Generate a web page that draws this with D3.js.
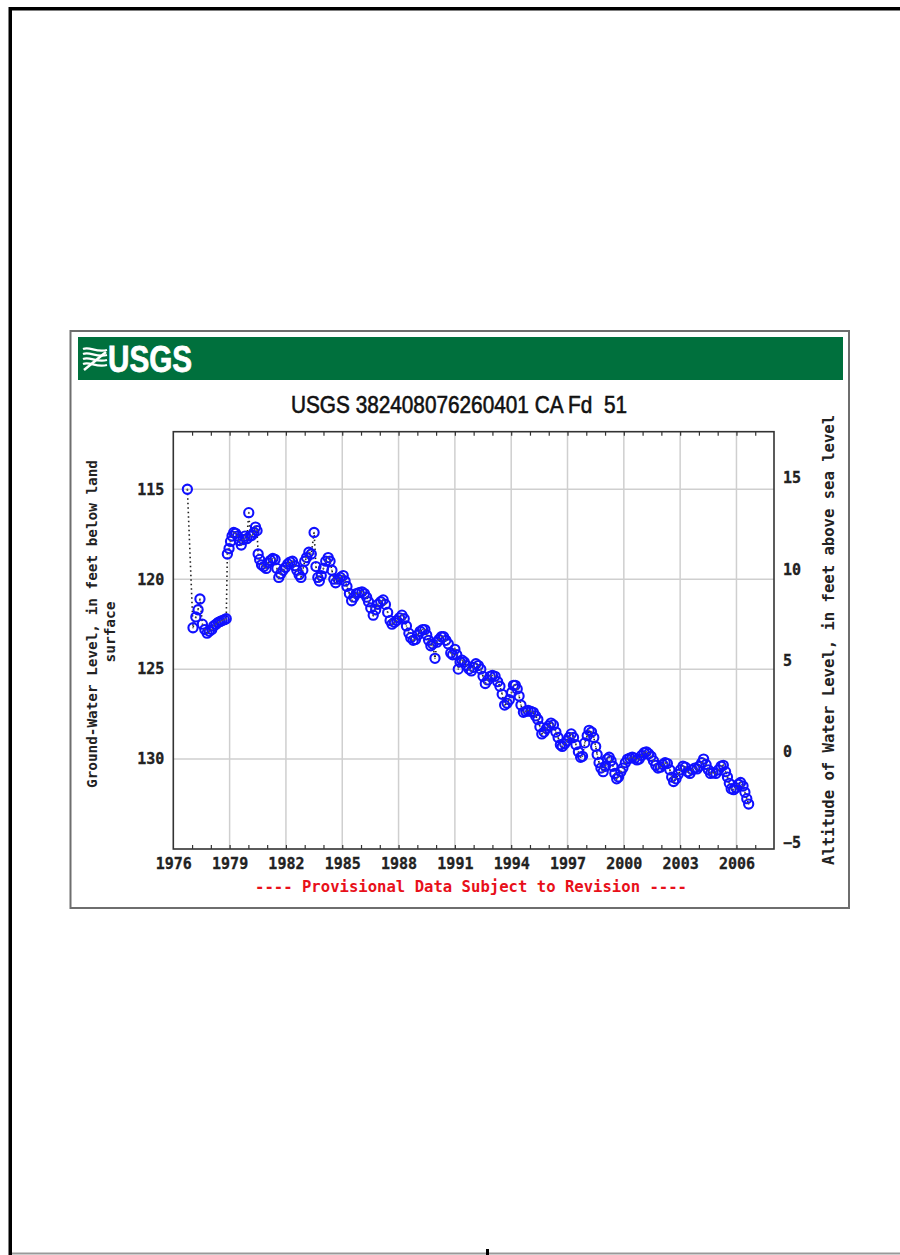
<!DOCTYPE html>
<html>
<head>
<meta charset="utf-8">
<script src="https://cdn.jsdelivr.net/npm/d3@7"></script>
<style>
html,body{margin:0;padding:0;background:#fff;}
svg{display:block;}
text{white-space:pre;}
</style>
</head>
<body>
<svg id="chart" width="900" height="1255"></svg>
<script>
// ---- data ----
const title = "USGS 382408076260401 CA Fd  51";
const leftTitle1 = "Ground-Water Level, in feet below land";
const leftTitle2 = "surface";
const rightTitle = "Altitude of Water Level, in feet above sea level";
const footer = "---- Provisional Data Subject to Revision ----";
const xTickYears = [1976, 1979, 1982, 1985, 1988, 1991, 1994, 1997, 2000, 2003, 2006];
const leftTicks = [115, 120, 125, 130];
const rightTicks = [15, 10, 5, 0, -5];
const years = [
1976.75,1977.05,1977.2,1977.32,1977.42,1977.55,1977.68,1977.8,1977.92,1978.05,1978.15,1978.28,1978.4,1978.5,1978.6,1978.72,1978.82,
1978.88,1978.97,1979.05,1979.13,1979.22,1979.32,1979.42,1979.52,1979.62,1979.72,1979.82,1979.92,1980.02,1980.1,1980.2,1980.3,1980.38,1980.46,
1980.52,1980.6,1980.7,1980.82,1980.95,1981.05,1981.18,1981.3,1981.42,1981.52,1981.62,1981.72,1981.85,1981.97,1982.1,1982.22,1982.35,1982.47,
1982.58,1982.7,1982.8,1982.9,1983.0,1983.1,1983.22,1983.35,1983.5,1983.6,1983.7,1983.78,1983.88,1984.0,1984.12,1984.25,1984.35,1984.45,
1984.55,1984.65,1984.78,1984.9,1985.05,1985.15,1985.25,1985.38,1985.5,1985.62,1985.75,1985.9,1986.05,1986.18,1986.3,1986.4,1986.52,1986.65,
1986.78,1986.9,1987.05,1987.18,1987.3,1987.42,1987.55,1987.65,1987.78,1987.9,1988.05,1988.18,1988.3,1988.42,1988.55,1988.65,1988.78,1988.9,
1989.02,1989.15,1989.28,1989.4,1989.5,1989.6,1989.72,1989.82,1989.94,1990.05,1990.15,1990.28,1990.4,1990.52,1990.65,1990.78,1990.88,1991.0,
1991.1,1991.18,1991.28,1991.38,1991.5,1991.62,1991.75,1991.88,1992.0,1992.12,1992.25,1992.38,1992.5,1992.62,1992.75,1992.88,1993.0,1993.14,
1993.28,1993.4,1993.52,1993.65,1993.78,1993.9,1994.02,1994.12,1994.22,1994.32,1994.42,1994.52,1994.65,1994.78,1994.9,1995.05,1995.18,1995.3,
1995.42,1995.53,1995.63,1995.75,1995.88,1996.0,1996.12,1996.25,1996.38,1996.5,1996.62,1996.72,1996.85,1996.96,1997.08,1997.2,1997.32,1997.45,
1997.58,1997.7,1997.8,1997.92,1998.05,1998.15,1998.28,1998.4,1998.5,1998.58,1998.68,1998.78,1998.9,1999.02,1999.12,1999.22,1999.32,1999.42,
1999.52,1999.62,1999.72,1999.84,1999.95,2000.08,2000.2,2000.32,2000.45,2000.58,2000.7,2000.82,2000.95,2001.08,2001.2,2001.32,2001.45,2001.58,
2001.7,2001.82,2001.95,2002.08,2002.2,2002.32,2002.45,2002.55,2002.65,2002.78,2002.9,2003.02,2003.15,2003.28,2003.4,2003.52,2003.65,2003.78,
2003.9,2004.02,2004.15,2004.25,2004.38,2004.5,2004.62,2004.75,2004.9,2005.05,2005.18,2005.3,2005.42,2005.52,2005.62,2005.72,2005.85,2005.97,
2006.1,2006.22,2006.35,2006.45,2006.55,2006.65
];
const depths = [
115.0,122.7,122.1,121.7,121.1,122.5,122.8,123.0,122.9,122.8,122.6,122.5,122.4,122.35,122.3,122.25,122.2,
118.6,118.3,117.9,117.6,117.4,117.45,117.6,117.85,118.1,117.8,117.6,117.75,116.3,117.6,117.55,117.4,117.1,117.3,
118.6,118.9,119.2,119.3,119.4,119.1,118.95,118.85,118.9,119.4,119.9,119.7,119.5,119.35,119.15,119.05,119.0,119.25,
119.5,119.75,119.9,119.5,119.0,118.8,118.5,118.6,117.4,119.3,119.9,120.1,119.8,119.4,119.0,118.8,119.0,119.5,
120.0,120.2,120.0,119.9,119.8,120.1,120.4,120.8,121.2,121.0,120.8,120.75,120.7,120.8,121.0,121.25,121.6,122.0,
121.7,121.4,121.25,121.15,121.4,121.85,122.3,122.5,122.4,122.3,122.15,122.0,122.2,122.6,123.0,123.25,123.4,123.35,
123.1,122.9,122.8,122.8,123.1,123.4,123.7,123.6,124.4,123.5,123.35,123.2,123.2,123.4,123.6,124.1,124.2,123.9,
124.2,125.0,124.6,124.5,124.6,124.8,125.0,125.1,124.9,124.7,124.8,125.0,125.4,125.8,125.6,125.4,125.35,125.4,
125.7,125.95,126.4,127.0,126.9,126.7,126.3,125.9,125.9,126.1,126.5,127.0,127.4,127.35,127.3,127.35,127.4,127.6,
127.8,128.2,128.6,128.5,128.3,128.15,128.0,128.1,128.5,128.8,129.2,129.3,129.15,129.0,128.8,128.6,128.8,129.2,
129.6,129.9,129.85,129.1,128.7,128.4,128.5,128.8,129.3,129.75,130.2,130.5,130.7,130.4,130.0,129.9,130.1,130.4,
130.8,131.1,131.0,130.7,130.5,130.2,130.0,129.95,129.9,129.95,130.05,130.0,129.8,129.65,129.6,129.7,129.85,130.1,
130.35,130.5,130.45,130.3,130.2,130.25,130.6,131.0,131.25,131.1,130.85,130.6,130.4,130.45,130.7,130.8,130.6,130.5,
130.55,130.4,130.2,130.0,130.3,130.6,130.8,130.75,130.8,130.6,130.4,130.35,130.7,131.0,131.35,131.65,131.7,131.6,
131.4,131.3,131.5,131.85,132.2,132.5
];
const data = years.map((t, i) => ({t: t, d: depths[i]}));

// ---- drawing ----
const svg = d3.select("#chart");
const W = 900, H = 1255;

// page frame
svg.append("rect").attr("x", 0).attr("y", 0).attr("width", W).attr("height", H).attr("fill", "#fff");
svg.append("rect").attr("x", 9).attr("y", 7).attr("width", 891).attr("height", 3.5).attr("fill", "#000");
svg.append("rect").attr("x", 8.5).attr("y", 7).attr("width", 3.5).attr("height", 1248).attr("fill", "#000");
svg.append("rect").attr("x", 12).attr("y", 1252.5).attr("width", 888).attr("height", 2).attr("fill", "#999");
svg.append("rect").attr("x", 486).attr("y", 1249).attr("width", 3).attr("height", 6).attr("fill", "#000");

// chart box
svg.append("rect").attr("x", 70.5).attr("y", 331).attr("width", 778.5).attr("height", 577)
  .attr("fill", "#fff").attr("stroke", "#6e6e6e").attr("stroke-width", 2);

// green header band
svg.append("rect").attr("x", 78).attr("y", 337).attr("width", 765).attr("height", 43).attr("fill", "#00703d");
// wave symbol
const logo = svg.append("g").attr("fill", "none").attr("stroke", "#fff").attr("stroke-width", 2.2);
[0, 5, 10, 15].forEach(k => {
  logo.append("path").attr("d", `M83,${349 + k} C90,${346 + k} 96,${353 + k} 107,${350 + k}`);
});
logo.append("path").attr("d", "M84,370 L106,352").attr("stroke-width", 2.5);
svg.append("text").attr("x", 108).attr("y", 372).attr("fill", "#fff").attr("stroke", "#fff").attr("stroke-width", 0.8)
  .attr("font-family", "'Liberation Sans Narrow','Arial Narrow','Liberation Sans',sans-serif")
  .attr("font-weight", "bold").attr("font-size", 36)
  .attr("textLength", 84).attr("lengthAdjust", "spacingAndGlyphs").text("USGS");

// title
svg.append("text").attr("x", 459).attr("y", 413).attr("text-anchor", "middle")
  .attr("font-family", "'Liberation Sans Narrow','Arial Narrow','Liberation Sans',sans-serif")
  .attr("font-size", 24).attr("fill", "#111").attr("stroke", "#111").attr("stroke-width", 0.6)
  .attr("textLength", 336).attr("lengthAdjust", "spacingAndGlyphs").text(title);

// scales
const x = d3.scaleLinear().domain([1976, 2008]).range([173.3, 774]);
const y = d3.scaleLinear().domain([111.8, 135]).range([431.7, 849]);
const yR = d3.scaleLinear().domain([15, -5]).range([478, 843]);

const mono = "'DejaVu Sans Mono','Liberation Mono',monospace";

// gridlines
const grid = svg.append("g").attr("stroke", "#cfcfcf").attr("stroke-width", 1.5);
xTickYears.filter(v => v > 1976).forEach(v => {
  grid.append("line").attr("x1", x(v)).attr("x2", x(v)).attr("y1", y(111.8)).attr("y2", y(135));
});
leftTicks.forEach(v => {
  grid.append("line").attr("x1", x(1976)).attr("x2", x(2008)).attr("y1", y(v)).attr("y2", y(v));
});

// minor year ticks (inward) top and bottom
const yearTicks = d3.range(1977, 2008);
svg.append("g").attr("transform", `translate(0,${y(135)})`)
  .call(d3.axisBottom(x).tickValues(yearTicks).tickSize(-4).tickFormat(""))
  .call(g => g.select(".domain").remove())
  .call(g => g.selectAll("line").attr("stroke", "#333").attr("stroke-width", 1.2));
svg.append("g").attr("transform", `translate(0,${y(111.8)})`)
  .call(d3.axisTop(x).tickValues(yearTicks).tickSize(-4).tickFormat(""))
  .call(g => g.select(".domain").remove())
  .call(g => g.selectAll("line").attr("stroke", "#333").attr("stroke-width", 1.2));

// bottom labels
svg.append("g").attr("transform", `translate(0,${y(135)})`)
  .call(d3.axisBottom(x).tickValues(xTickYears).tickSize(0).tickPadding(9).tickFormat(d3.format("d")))
  .call(g => g.select(".domain").remove())
  .call(g => g.selectAll("text").attr("font-family", mono).attr("font-weight", "bold")
    .attr("font-size", 15).attr("fill", "#222").attr("stroke", "#222").attr("stroke-width", 0.3));

// left labels
svg.append("g").attr("transform", `translate(${x(1976)},0)`)
  .call(d3.axisLeft(y).tickValues(leftTicks).tickSize(0).tickPadding(9).tickFormat(d3.format("d")))
  .call(g => g.select(".domain").remove())
  .call(g => g.selectAll("text").attr("font-family", mono).attr("font-weight", "bold")
    .attr("font-size", 15).attr("fill", "#222").attr("stroke", "#222").attr("stroke-width", 0.3));

// right labels
svg.append("g").attr("transform", `translate(${x(2008)},0)`)
  .call(d3.axisRight(yR).tickValues(rightTicks).tickSize(0).tickPadding(9).tickFormat(d3.format("d")))
  .call(g => g.select(".domain").remove())
  .call(g => g.selectAll("text").attr("font-family", mono).attr("font-weight", "bold")
    .attr("font-size", 15).attr("fill", "#222").attr("stroke", "#222").attr("stroke-width", 0.3));

// axis titles
svg.append("text").attr("transform", "translate(97,624) rotate(-90)").attr("text-anchor", "middle")
  .attr("font-family", mono).attr("font-weight", "bold").attr("font-size", 14.5).attr("fill", "#222")
  .attr("textLength", 328).attr("lengthAdjust", "spacingAndGlyphs").text(leftTitle1);
svg.append("text").attr("transform", "translate(115,632) rotate(-90)").attr("text-anchor", "middle")
  .attr("font-family", mono).attr("font-weight", "bold").attr("font-size", 14.5).attr("fill", "#222")
  .text(leftTitle2);
svg.append("text").attr("transform", "translate(834,640) rotate(-90)").attr("text-anchor", "middle")
  .attr("font-family", mono).attr("font-weight", "bold").attr("font-size", 15).attr("fill", "#222")
  .attr("textLength", 450).attr("lengthAdjust", "spacingAndGlyphs").text(rightTitle);

// footer
svg.append("text").attr("x", 471).attr("y", 892).attr("text-anchor", "middle")
  .attr("font-family", mono).attr("font-weight", "bold").attr("font-size", 15).attr("fill", "#e8101a")
  .attr("textLength", 432).attr("lengthAdjust", "spacingAndGlyphs").text(footer);

// plot frame
svg.append("rect").attr("x", x(1976)).attr("y", y(111.8)).attr("width", x(2008) - x(1976))
  .attr("height", y(135) - y(111.8)).attr("fill", "none").attr("stroke", "#333").attr("stroke-width", 1.6);

// dotted connecting line
const line = d3.line().x(d => x(d.t)).y(d => y(d.d));
svg.append("path").datum(data).attr("d", line).attr("fill", "none")
  .attr("stroke", "#222").attr("stroke-width", 1.6).attr("stroke-dasharray", "1.5,3");

// markers
const pts = svg.append("g");
pts.selectAll("circle.m").data(data).join("circle").attr("class", "m")
  .attr("cx", d => x(d.t)).attr("cy", d => y(d.d)).attr("r", 4.6)
  .attr("fill", "none").attr("stroke", "#1010ff").attr("stroke-width", 2.1);
pts.selectAll("circle.c").data(data).join("circle").attr("class", "c")
  .attr("cx", d => x(d.t)).attr("cy", d => y(d.d)).attr("r", 0.8)
  .attr("fill", "#555");
</script>
</body>
</html>
